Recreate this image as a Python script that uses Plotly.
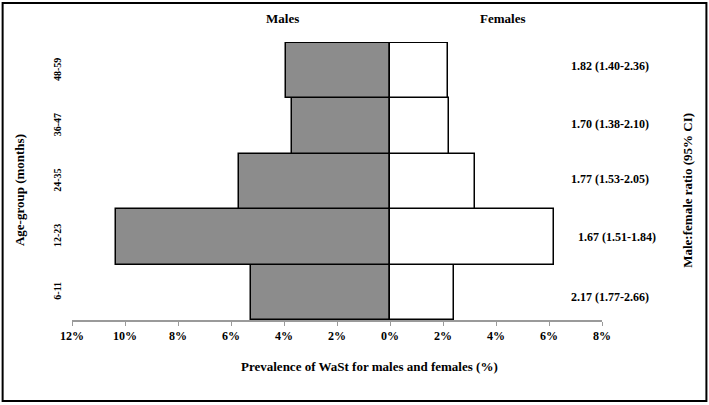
import plotly.graph_objects as go

# age groups, bottom to top
age_groups = ["6-11", "12-23", "24-35", "36-47", "48-59"]
males = [5.25, 10.33, 5.70, 3.70, 3.91]
females = [2.41, 6.19, 3.19, 2.21, 2.17]
ratio_text = ["2.17 (1.77-2.66)", "1.67 (1.51-1.84)", "1.77 (1.53-2.05)",
              "1.70 (1.38-2.10)", "1.82 (1.40-2.36)"]

tick_vals = [-12, -10, -8, -6, -4, -2, 0, 2, 4, 6, 8]
tick_text = ["12%", "10%", "8%", "6%", "4%", "2%", "0%", "2%", "4%", "6%", "8%"]

serif = "Liberation Serif"

fig = go.Figure()
fig.add_trace(go.Bar(y=age_groups, x=[-v for v in males], orientation="h",
                     name="Males",
                     marker=dict(color="#8c8c8c", line=dict(color="black", width=1.5))))
fig.add_trace(go.Bar(y=age_groups, x=females, orientation="h",
                     name="Females",
                     marker=dict(color="white", line=dict(color="black", width=1.5))))

fig.update_layout(
    width=709, height=405,
    margin=dict(l=72, r=107, t=42, b=85),
    barmode="relative", bargap=0,
    showlegend=False,
    paper_bgcolor="white", plot_bgcolor="white",
    font=dict(family=serif, color="black", size=12),
)

fig.update_xaxes(range=[-12, 8], tickvals=tick_vals, ticktext=tick_text,
                 showgrid=False, zeroline=False,
                 showline=True, linecolor="#9a9a9a", linewidth=1.5,
                 ticks="outside", tickcolor="#9a9a9a", ticklen=4,
                 tickfont=dict(family=serif, size=12, weight="bold"))
# a little headroom so the top bar outline is not clipped
fig.update_yaxes(categoryorder="array", categoryarray=age_groups,
                 range=[-0.5, 4.52], showgrid=False, zeroline=False, showline=False,
                 tickangle=-90, ticklabelstandoff=8,
                 tickfont=dict(family=serif, size=10, weight="bold"))

# male:female ratio labels on the right
ratio_x = [1.016, 1.029, 1.016, 1.016, 1.016]
ratio_shift = [-5, 0, 3, 2, 5]
for g, t, rx, sh in zip(age_groups, ratio_text, ratio_x, ratio_shift):
    fig.add_annotation(x=rx, xref="paper", y=g, yref="y", text=t, showarrow=False,
                       xanchor="center", yanchor="middle", yshift=sh,
                       font=dict(family=serif, size=12, weight="bold"))

def label(x, y, text, angle=0):
    fig.add_annotation(x=x, y=y, xref="paper", yref="paper", text="<b>%s</b>" % text,
                       textangle=angle, showarrow=False,
                       xanchor="center", yanchor="middle", font=dict(size=13))

label(0.398, 1.083, "Males")
label(0.813, 1.083, "Females")
label(0.561, -0.168, "Prevalence of WaSt for males and females (%)")
label(-0.0988, 0.466, "Age-group (months)", -90)
label(1.161, 0.466, "Male:female ratio (95% CI)", -90)

# outer frame
fig.add_shape(type="rect", xref="paper", yref="paper",
              x0=-0.1309, x1=1.197, y0=-0.2914, y1=1.1403,
              line=dict(color="black", width=2))

# drop the page's default body margin so the figure sits at the window corner
fig.write_html("out.html", config={"displayModeBar": False},
               post_script="document.body.style.margin='0';")
